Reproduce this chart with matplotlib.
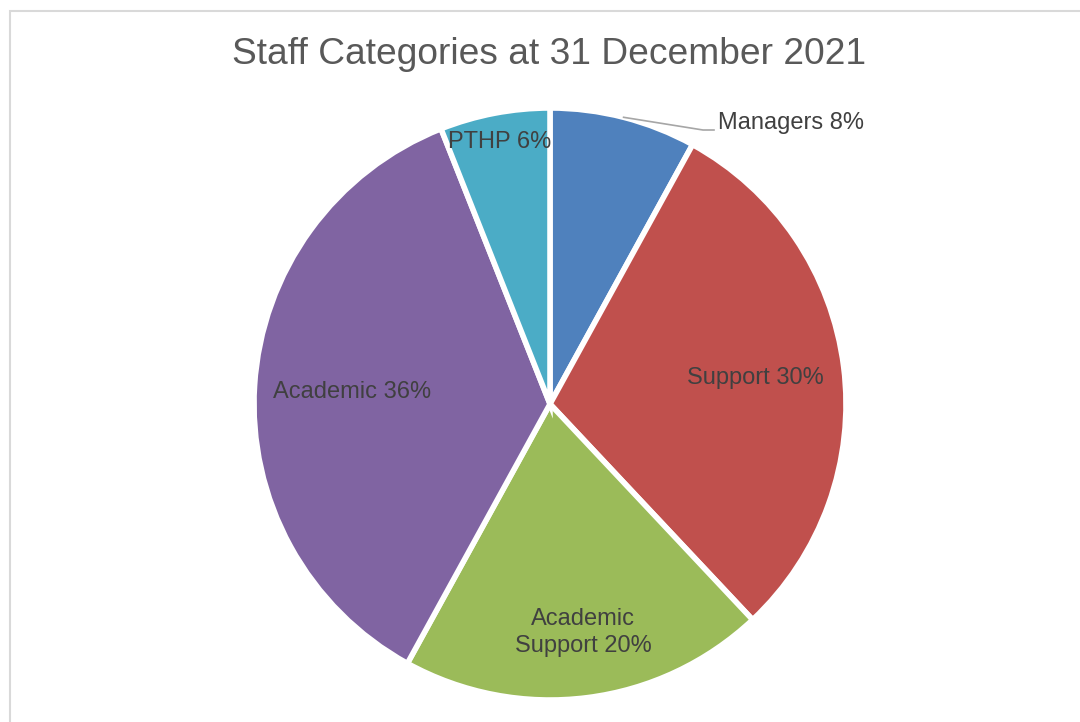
import numpy as np
import matplotlib
matplotlib.use("Agg")
import matplotlib.pyplot as plt
from matplotlib.patches import Rectangle

# staff mix at year end, percent of headcount
categories = ["Managers", "Support", "Academic\nSupport", "Academic", "PTHP"]
shares = [8, 30, 20, 36, 6]
colors = ["#4F81BD", "#C0504D", "#9BBB59", "#8064A2", "#4BACC6"]

plt.rcParams["font.family"] = ["Liberation Sans", "DejaVu Sans"]

W, H = 1080, 722
fig = plt.figure(figsize=(W / 100, H / 100), dpi=100)
ax = fig.add_axes([0, 0, 1, 1])

# chart frame (only top and left edges fall inside the image)
ax.add_patch(Rectangle((9.5, -10), W + 20, H - 0.5, fill=False,
                       edgecolor="#D9D9D9", linewidth=1.5))

cx, cy, r = 550, H - 404, 296
wedges, _ = ax.pie(shares, colors=colors, startangle=90, counterclock=False,
                   center=(cx, cy), radius=r,
                   wedgeprops=dict(edgecolor="white", linewidth=4))
ax.set_xlim(0, W)
ax.set_ylim(0, H)
ax.set_aspect("equal")
ax.axis("off")

ax.text(549, H - 55, "Staff Categories at 31 December 2021", ha="center",
        va="center", fontsize=26.7, color="#595959")

# inside labels: (radial distance as a fraction of the radius, angle nudge in deg)
label_pos = {"Support": (0.70, 0.0), "Academic\nSupport": (0.78, 1.0),
             "Academic": (0.67, 0.0), "PTHP": (0.90, 0.0)}
for w, name, val in zip(wedges, categories, shares):
    mid = np.deg2rad((w.theta1 + w.theta2) / 2)
    txt = f"{name} {val}%"
    if name == "Managers":
        # leader line from the slice edge out to the label
        ex, ey = cx + r * np.cos(mid), cy + r * np.sin(mid)
        ax.plot([ex, 703, 714], [ey, H - 130, H - 130], color="#A6A6A6", lw=1.2)
        ax.text(718, H - 123, txt, ha="left", va="center", fontsize=17,
                color="#404040")
        continue
    d, nudge = label_pos[name]
    a = mid + np.deg2rad(nudge)
    ax.text(cx + d * r * np.cos(a), cy + d * r * np.sin(a), txt,
            ha="center", va="center", fontsize=17, color="#404040",
            linespacing=1.25)

fig.savefig("out.png", dpi=100)
